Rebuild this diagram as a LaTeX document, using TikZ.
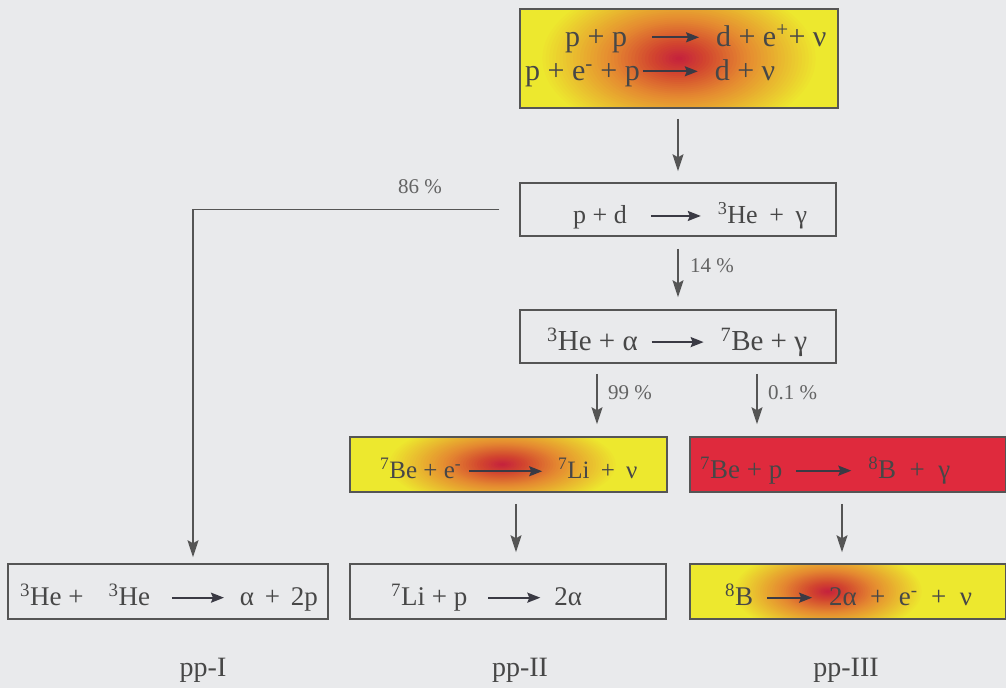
\documentclass[tikz,border=0pt]{standalone}
\usepackage{fontspec}
\setmainfont{Liberation Serif}
\usetikzlibrary{arrows.meta,calc}
\definecolor{bg}{HTML}{E9EAEC}
\definecolor{ink}{HTML}{474747}
\definecolor{arrink}{HTML}{3A3A44}
\definecolor{lineink}{HTML}{555555}
\definecolor{cyellow}{HTML}{EDE82E}
\definecolor{corange}{HTML}{E58A30}
\definecolor{cred}{HTML}{C41E3E}
\definecolor{cdeep}{HTML}{D2452F}
\definecolor{cbox}{HTML}{DF2A3D}
\newcommand{\rarr}[3]{\hspace*{#1}\tikz[baseline=0pt]\draw[draw=arrink,line width=1.9pt,-{Stealth[length=13pt,width=10pt,inset=2pt]}] (0pt,0.29em)--(#2,0.29em);\hspace*{#3}}
\newcommand{\pl}[1]{\hspace*{#1}+\hspace*{#1}}
% concentric layers: yellow -> orange -> deep red -> red
\newcommand{\glowlayers}[3]{%
  \foreach \i in {0,...,40}{%
    \pgfmathsetmacro{\gt}{0.8*(1-\i/41)}%
    \pgfmathsetmacro{\grx}{#2*\gt}\pgfmathsetmacro{\gry}{#3*\gt}%
    \ifdim\gt pt>0.4pt
      \pgfmathsetmacro{\gm}{100*(\gt-0.4)/0.4}\edef\gcol{cyellow!\gm!corange}%
    \else\ifdim\gt pt>0.16pt
      \pgfmathsetmacro{\gm}{100*(\gt-0.16)/0.24}\edef\gcol{corange!\gm!cdeep}%
    \else
      \pgfmathsetmacro{\gm}{100*\gt/0.16}\edef\gcol{cdeep!\gm!cred}%
    \fi\fi
    \fill[color=\gcol] ([xshift=#1]path picture bounding box.center) ellipse[x radius=\grx pt, y radius=\gry pt];
  }}
\tikzset{
  box/.style={draw=lineink, line width=1.5pt, inner sep=0pt},
  glowfill/.style n args={3}{fill=cyellow, path picture={\glowlayers{#1}{#2}{#3}}},
  txt/.style={anchor=base west, inner sep=0pt, text=ink, font=\fontsize{#1}{30}\selectfont},
  pct/.style={anchor=base west, inner sep=0pt, text=ink!85, font=\fontsize{21}{24}\selectfont},
  lbl/.style={anchor=base, inner sep=0pt, text=ink, font=\fontsize{28}{30}\selectfont},
  conn/.style={draw=lineink, line width=1.5pt, -{Stealth[length=17pt,width=11pt,inset=3pt]}}
}
\begin{document}
\begin{tikzpicture}[x=1pt,y=-1pt]
\path[use as bounding box, fill=bg] (0,0) rectangle (1006,688);
% boxes
\node[box, minimum width=318pt, minimum height=99pt, glowfill={0pt}{175pt}{100pt}] (top) at (679,58.5) {};
\node[box, minimum width=316pt, minimum height=53pt] (pd) at (678,209.5) {};
\node[box, minimum width=316pt, minimum height=53pt] (he) at (678,336.5) {};
\node[box, minimum width=317pt, minimum height=55pt, glowfill={-6pt}{145pt}{55pt}] (bee) at (508.5,464.5) {};
\node[box, minimum width=316pt, minimum height=55pt, fill=cbox] (bep) at (848,464.5) {};
\node[box, minimum width=320pt, minimum height=55pt] (he3) at (168,591.5) {};
\node[box, minimum width=316pt, minimum height=55pt] (li) at (508,591.5) {};
\node[box, minimum width=316pt, minimum height=55pt, glowfill={-20pt}{120pt}{55pt}] (b8) at (848,591.5) {};
% texts
\node[txt=30] (t1a) at (565,46) {p + p\rarr{24pt}{47pt}{16pt}d + e\textsuperscript{+}+ ν};
\node[txt=30] (t1b) at (525,80) {p + e\textsuperscript{-} + p\rarr{2pt}{55pt}{16pt}d + ν};
\node[txt=26] (tpd) at (573,223.5) {p + d\rarr{23pt}{50pt}{16pt}\textsuperscript{3}He\pl{0.45em}γ};
\node[txt=29] (the) at (547,350.5) {\textsuperscript{3}He + α\rarr{13pt}{52pt}{16pt}\textsuperscript{7}Be + γ};
\node[txt=25] (tbee) at (380,478.5) {\textsuperscript{7}Be + e\textsuperscript{-}\rarr{7pt}{73pt}{15pt}\textsuperscript{7}Li\pl{0.45em}ν};
\node[txt=27] (tbep) at (700,478.5) {\textsuperscript{7}Be + p\rarr{13pt}{55pt}{16pt}\textsuperscript{8}B\pl{0.5em}γ};
\node[txt=27] (the3) at (20,605.5) {\textsuperscript{3}He +\hspace{25pt}\textsuperscript{3}He\rarr{21pt}{52pt}{15pt}α\pl{0.4em}2p};
\node[txt=27] (tli) at (391,605.5) {\textsuperscript{7}Li + p\rarr{20pt}{52pt}{13pt}2α};
\node[txt=27] (tb8) at (725,605.5) {\textsuperscript{8}B\rarr{13pt}{45pt}{16pt}2α\pl{0.5em}e\textsuperscript{-}\pl{0.5em}ν};
% percentages
\node[pct] (p86) at (398,193) {86 \%};
\node[pct] (p14) at (690,272) {14 \%};
\node[pct] (p99) at (608,399) {99 \%};
\node[pct] (p01) at (768,399) {0.1 \%};
% chain labels
\node[lbl] (l1) at (203,676) {pp-I};
\node[lbl] (l2) at (520,676) {pp-II};
\node[lbl] (l3) at (846,676) {pp-III};
% connectors
\draw[conn] ($(pd.north |- top.south)+(0,10)$) -- ($(pd.north)+(0,-11)$);
\draw[conn] ($(pd.south)+(0,12)$) -- ($(he.north)+(0,-12)$);
\draw[conn] ($(pd.west)+(-20,0)$) -| ($(he3.north)+(25,-6)$);
\draw[conn] ($(he.south)+(-81,10)$) coordinate (s99) -- ($(s99 |- bee.north)+(0,-12)$);
\draw[conn] ($(he.south)+(79,10)$) coordinate (s01) -- ($(s01 |- bep.north)+(0,-12)$);
\draw[conn] ($(bee.south)+(7.5,11)$) coordinate (s2) -- ($(s2 |- li.north)+(0,-11)$);
\draw[conn] ($(bep.south)+(-6,11)$) coordinate (s3) -- ($(s3 |- b8.north)+(0,-11)$);
\end{tikzpicture}
\end{document}
